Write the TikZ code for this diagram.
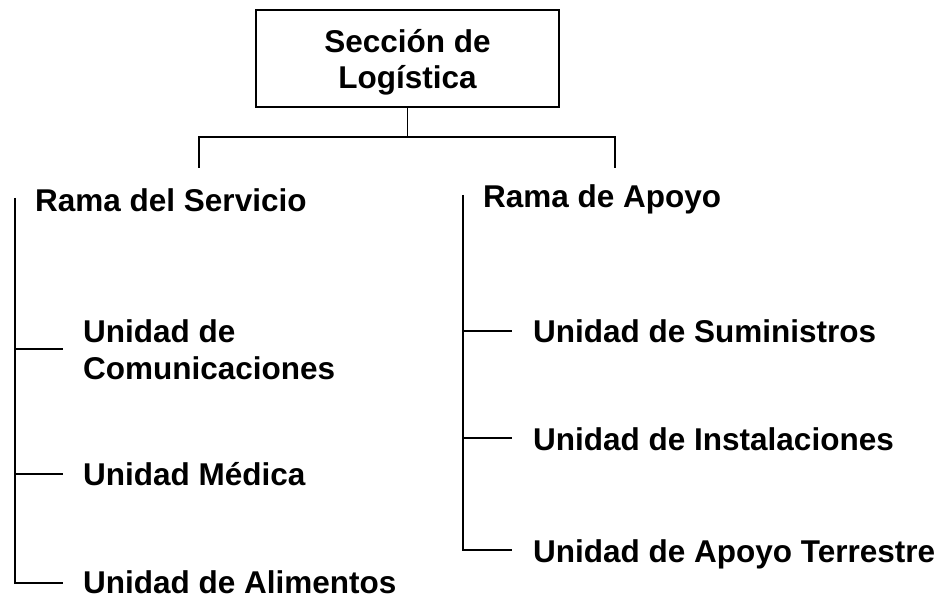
\documentclass[tikz,border=0pt]{standalone}
\usepackage{fontspec}
\setmainfont{Liberation Sans}
\begin{document}
\begin{tikzpicture}[x=1pt,y=-1pt,
  lbl/.style={anchor=base west,inner sep=0pt,font=\fontsize{31.5}{37}\selectfont\bfseries},
  ln/.style={line width=1.4pt}]
\useasboundingbox (0,0) rectangle (945,601);
% top box
\node[draw,line width=1.4pt,minimum width=303pt,minimum height=97pt,inner sep=0pt] (top) at (407.5,58.5) {};
\node[anchor=base,inner sep=0pt,font=\fontsize{31.5}{36}\selectfont\bfseries,align=center] (toptxt) at (407.5,89) {Sección de\\Logística};
% branch labels
\node[lbl] (rs) at (35,212) {Rama del Servicio};
\node[lbl] (ra) at (483,208) {Rama de Apoyo};
% left units
\node[lbl,align=left] (uc) at (83,380) {Unidad de\\Comunicaciones};
\node[lbl] (um) at (83,485) {Unidad Médica};
\node[lbl] (ual) at (83,593) {Unidad de Alimentos};
% right units
\node[lbl] (us) at (533,343) {Unidad de Suministros};
\node[lbl] (ui) at (533,450) {Unidad de Instalaciones};
\node[lbl] (uat) at (533,562) {Unidad de Apoyo Terrestre};
% connector coordinates
\coordinate (jn) at (407.5,137);
\coordinate (lt) at (199,168);
\coordinate (rt) at (615,168);
\coordinate (lbtop) at (15,198);
\coordinate (lc) at (63,349);
\coordinate (lm) at (63,474);
\coordinate (la) at (63,583);
\coordinate (rbtop) at (463,195);
\coordinate (rs1) at (512,331);
\coordinate (ri1) at (512,438);
\coordinate (ra1) at (512,550);
% connectors
\draw[ln] (top.south) -- (jn);
\draw[ln] (lt) -- (lt|-jn) -- (rt|-jn) -- (rt);
\draw[ln] (lbtop) -- (lbtop|-la) -- (la);
\draw[ln] (lbtop|-lc) -- (lc);
\draw[ln] (lbtop|-lm) -- (lm);
\draw[ln] (rbtop) -- (rbtop|-ra1) -- (ra1);
\draw[ln] (rbtop|-rs1) -- (rs1);
\draw[ln] (rbtop|-ri1) -- (ri1);
\end{tikzpicture}
\end{document}
